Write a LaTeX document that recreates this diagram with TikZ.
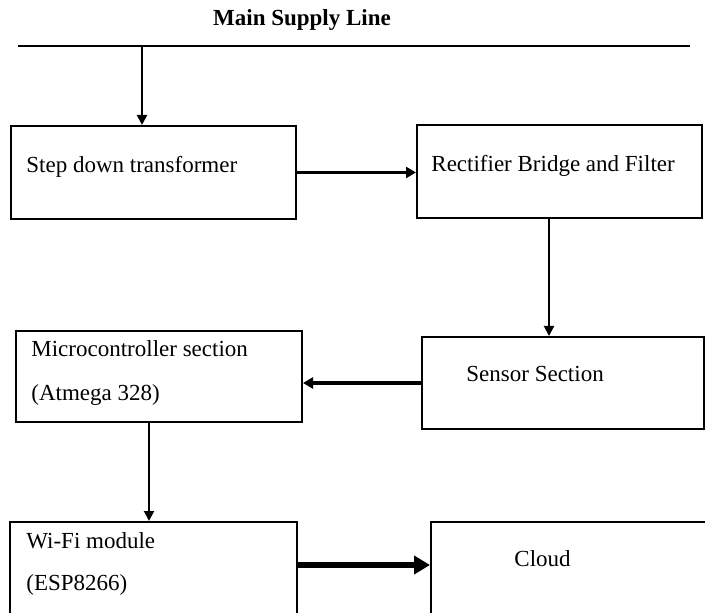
\documentclass[tikz,border=0pt]{standalone}
\usepackage{fontspec}
\setmainfont{Liberation Serif}
\usetikzlibrary{arrows.meta}

\begin{document}
\begin{tikzpicture}[x=0.5pt,y=-0.5pt,
	blk/.style={draw,line width=1pt,minimum width=142.5pt,minimum height=46.5pt,inner sep=0pt},
	txt/.style={anchor=base west,inner sep=0pt,font=\fontsize{11.5}{22}\selectfont,align=left},
	arr/.style={line width=1pt,-{Triangle[length=5pt,width=5pt]}},
	fat/.style={line width=1.6pt,-{Triangle[length=5pt,width=5.5pt]}},
	bulk/.style={line width=3pt,-{Triangle[length=8pt,width=9pt]}}]
	\useasboundingbox (0,0) rectangle (705,613);
	\clip (0,0) rectangle (705,613);
	\node[anchor=base,font=\fontsize{11.5}{14}\selectfont\bfseries] (title) at (302,26) {Main Supply Line};
	\coordinate (lineL) at (18,46);
	\coordinate (lineR) at (690,46);
	\coordinate (tap) at (142,46);
	\draw[line width=1pt] (lineL) -- (lineR);
	\node[blk] (step) at (153.5,172.5) {};
	\node[blk] (rect) at (559.5,171.5) {};
	\node[blk,minimum width=141pt,minimum height=46pt] (sens) at (563,383) {};
	\node[blk,minimum width=143pt,minimum height=45.5pt] (micro) at (159,376.5) {};
	\node[blk,minimum width=143.5pt] (wifi) at (153.5,568.5) {};
	\node[blk] (cloud) at (573.5,568.5) {};
	\node[txt] at ([shift={(16,48)}]step.north west) {Step down transformer};
	\node[txt] at ([shift={(15,48)}]rect.north west) {Rectifier Bridge and Filter};
	\node[txt] at ([shift={(45,46)}]sens.north west) {Sensor Section};
	\node[txt] at ([shift={(16,71)}]micro.north west) {Microcontroller section\\(Atmega 328)};
	\node[txt,font=\fontsize{11.5}{21}\selectfont] at ([shift={(17,69)}]wifi.north west) {Wi-Fi module\\(ESP8266)};
	\node[txt] at ([shift={(84,45)}]cloud.north west) {Cloud};
	\draw[arr] (tap) -- (tap |- step.north);
	\draw[fat] (step.east) -- (step.east -| rect.west);
	\draw[arr] ([xshift=-5.25pt]rect.south) -- ([xshift=-5.25pt]rect.south |- sens.north);
	\draw[fat] (sens.west) -- (sens.west -| micro.east);
	\draw[arr] ([xshift=-5pt]micro.south) -- ([xshift=-5pt]micro.south |- wifi.north);
	\draw[bulk] ([yshift=1.75pt]wifi.east) -- ([yshift=1.75pt]wifi.east -| cloud.west);
\end{tikzpicture}
\end{document}
